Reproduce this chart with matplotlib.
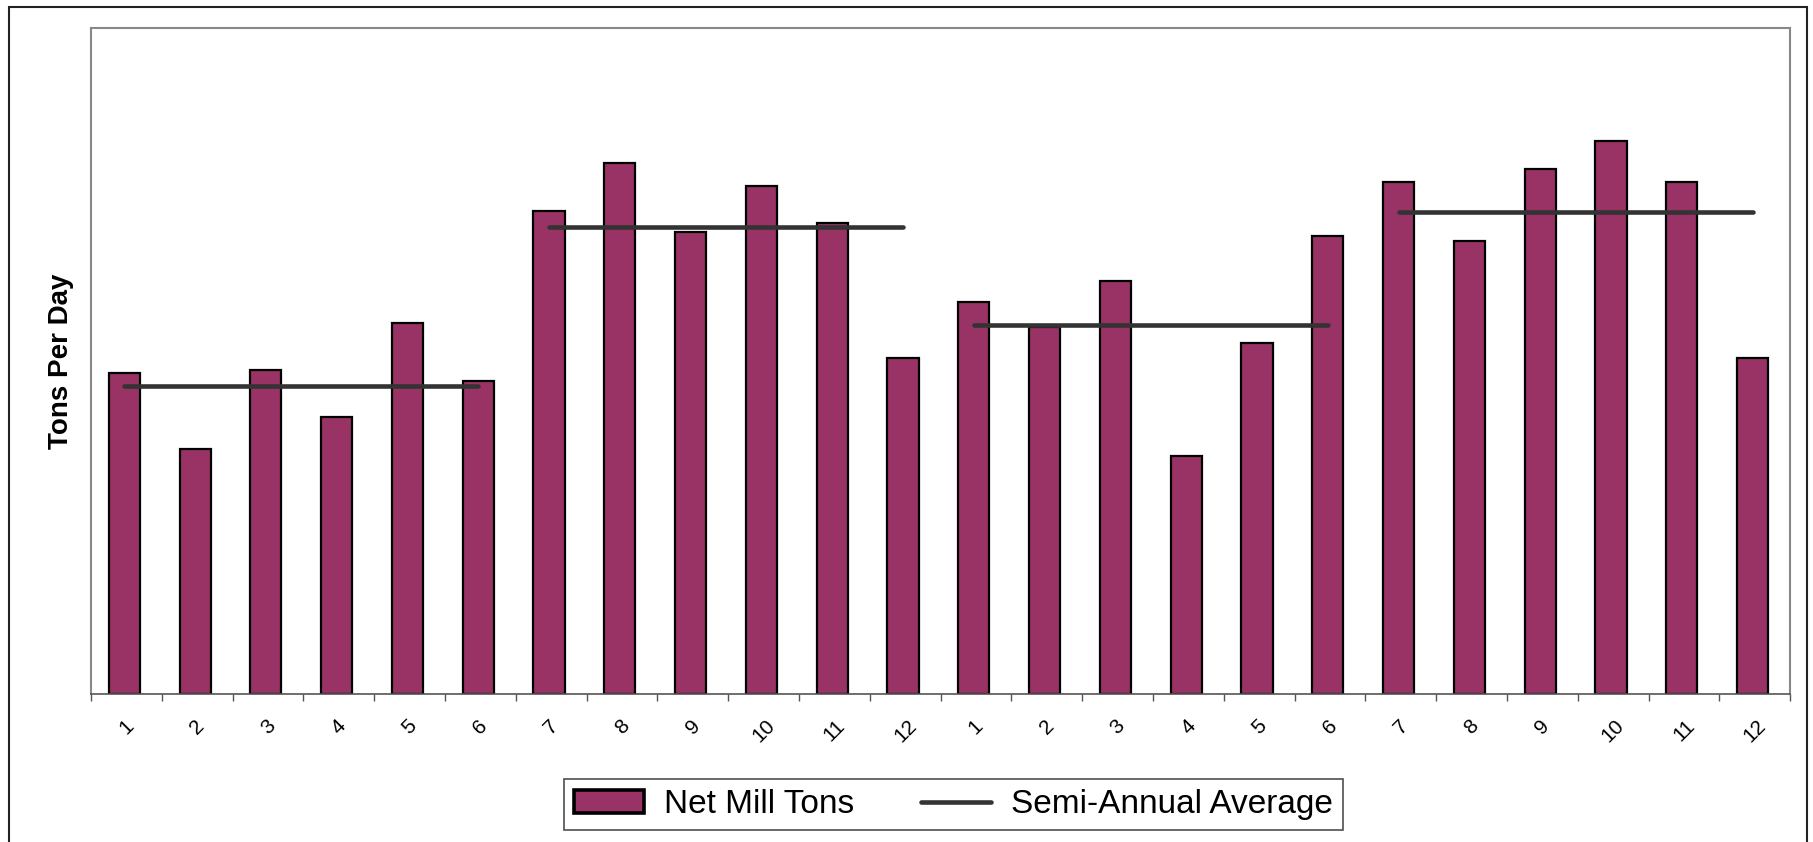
import numpy as np
import matplotlib
matplotlib.use("Agg")
import matplotlib.pyplot as plt
from matplotlib.patches import Rectangle, Patch

plt.rcParams['font.family'] = ['Liberation Sans', 'DejaVu Sans']

# Monthly net mill tons (two years, arbitrary units)
months = ['1', '2', '3', '4', '5', '6', '7', '8', '9', '10', '11', '12',
          '1', '2', '3', '4', '5', '6', '7', '8', '9', '10', '11', '12']
net_mill_tons = [278, 212, 280, 240, 321, 271, 418, 459, 400, 439, 407, 291,
                 339, 317, 357, 206, 304, 396, 443, 392, 454, 478, 443, 291]
# semi-annual averages, one per half year
semi_annual_avg = [266, 404, 319, 417]

bar_color = '#993366'
line_color = '#333333'

fig = plt.figure(figsize=(18.13, 8.42), dpi=100)
ax = fig.add_axes([0.0502, 0.1758, 0.9372, 0.7909])

x = np.arange(len(net_mill_tons))
ax.bar(x - 0.03, net_mill_tons, width=0.44, color=bar_color,
       edgecolor='black', linewidth=1.6, zorder=2)

line = None
for i, avg in enumerate(semi_annual_avg):
    xs = x[i * 6:(i + 1) * 6]
    line, = ax.plot([xs[0] - 0.03, xs[-1] - 0.03], [avg, avg], color=line_color,
                    linewidth=3.3, solid_capstyle='round', zorder=3)

ax.set_xlim(-0.5, len(net_mill_tons) - 0.5)
ax.set_ylim(0, 576)
ax.set_yticks([])
ax.set_xticks(x)
ax.set_xticklabels(months, rotation=45, ha='center', fontsize=15)
ax.set_xticks(np.arange(-0.5, len(net_mill_tons)), minor=True)
ax.tick_params(axis='x', which='major', length=0, pad=16)
ax.tick_params(axis='x', which='minor', length=5, width=1, color='#555555')

for side in ['left', 'top', 'right']:
    ax.spines[side].set_color('#888888')
    ax.spines[side].set_linewidth(1.5)
ax.spines['bottom'].set_color('#555555')
ax.spines['bottom'].set_linewidth(1.2)

ax.set_ylabel('Tons Per Day', fontsize=20, fontweight='bold', labelpad=12)

bar_handle = Patch(facecolor=bar_color, edgecolor='black', linewidth=2.6)
leg = fig.legend([bar_handle, line], ['Net Mill Tons', 'Semi-Annual Average'],
                 loc='center', bbox_to_anchor=(0.526, 0.044),
                 ncol=2, fontsize=24, frameon=True, fancybox=False,
                 handlelength=2.1, handleheight=0.7, handletextpad=0.6,
                 columnspacing=2.0, borderpad=0.3, borderaxespad=0)
leg.get_frame().set_edgecolor('#222222')
leg.get_frame().set_linewidth(1.2)

# outer chart border
fig.patches.append(Rectangle((9 / 1813, -0.02), 1798 / 1813, 1.02 - 7 / 842,
                             transform=fig.transFigure, fill=False,
                             edgecolor='#222222', linewidth=1.5))

fig.savefig('out.png', dpi=100)
